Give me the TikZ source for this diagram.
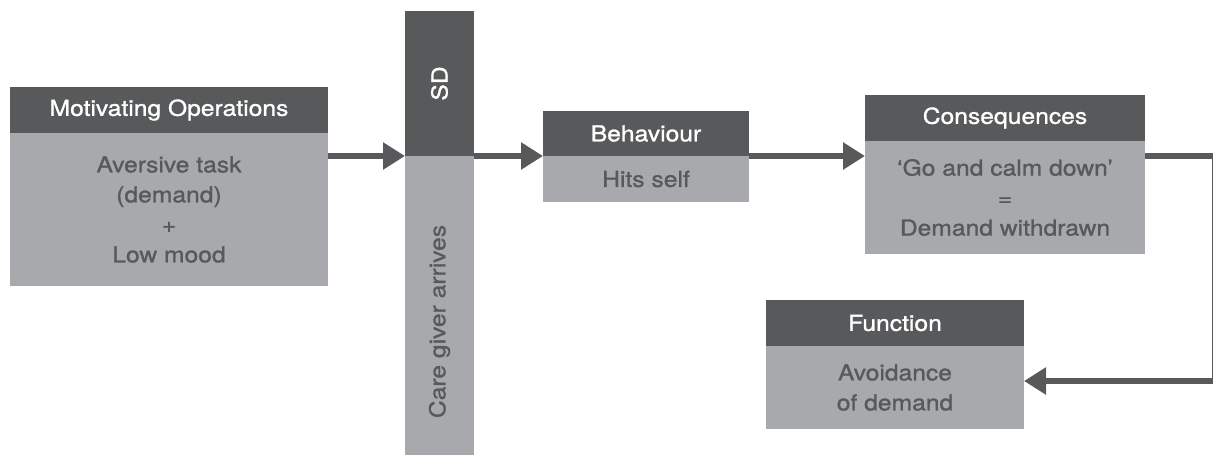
\documentclass[tikz,border=0pt]{standalone}
\usepackage{fontspec}
\setmainfont{TeX Gyre Heros}[FakeStretch=1.12, FakeBold=1.2]
\usetikzlibrary{arrows.meta}
\definecolor{boxdark}{HTML}{58595B}
\definecolor{boxlight}{HTML}{A7A9AC}
\tikzset{
  every node/.style = {inner sep=0pt, outer sep=0pt},
}

\begin{document}
\begin{tikzpicture}[
    x=1pt, y=-1pt,
    head/.style={fill=boxdark, text=white, font=\fontsize{22}{26}\selectfont},
    body/.style={fill=boxlight, text=boxdark, align=center, font=\fontsize{22}{30}\selectfont},
    conn/.style={draw=boxdark, line width=6.5pt, -{Triangle[length=22pt, width=26pt]}},
    ]
    \useasboundingbox (0,0) rectangle (1213,455);
    \node[head, minimum width=318pt, minimum height=46pt] (mohead) at (169,110) {Motivating Operations};
    \node[body, minimum width=318pt, minimum height=153pt, anchor=north] (mobody) at (mohead.south) {Aversive task\\(demand)\\+\\Low mood};
    \node[head, minimum width=69pt, minimum height=145pt] (sdhead) at (439.5,83.5) {\rotatebox{90}{SD}};
    \node[body, minimum width=69pt, minimum height=331pt, anchor=north] (sdbody) at (sdhead.south) {\rotatebox{90}{Care giver arrives}};
    \node[head, minimum width=206pt, minimum height=45pt] (bhhead) at (646,133.5) {Behaviour};
    \node[body, minimum width=206pt, minimum height=46pt, anchor=north] (bhbody) at (bhhead.south) {Hits self};
    \node[head, minimum width=280pt, minimum height=46pt] (cqhead) at (1005,118) {Consequences};
    \node[body, minimum width=280pt, minimum height=113pt, anchor=north] (cqbody) at (cqhead.south) {‘Go and calm down’\\=\\Demand withdrawn};
    \node[head, minimum width=258pt, minimum height=46pt] (fnhead) at (895,323) {Function};
    \node[body, minimum width=258pt, minimum height=83pt, anchor=north] (fnbody) at (fnhead.south) {Avoidance\\of demand};
    \coordinate (edge) at (1215.5,0);
    \coordinate (fnin) at ([yshift=6.5pt]fnbody.east);
    \draw[conn] (mobody.east |- sdhead.south) -- (sdhead.south west);
    \draw[conn] (sdhead.south east) -- (bhhead.south west);
    \draw[conn] (bhhead.south east) -- (bhhead.south east -| cqbody.west);
    \draw[conn] (cqbody.east |- bhhead.south) -- (bhhead.south -| edge) -- (edge |- fnin) -- (fnin);
\end{tikzpicture}
\end{document}
